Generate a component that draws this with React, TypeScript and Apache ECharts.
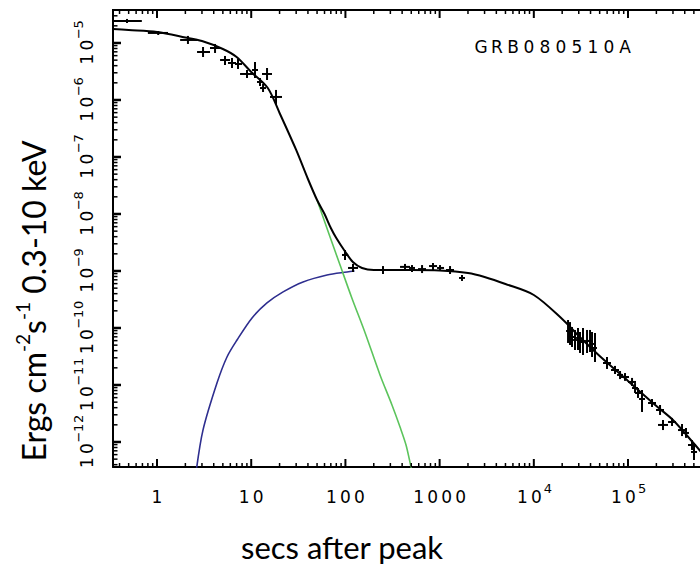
import React, { useEffect, useRef } from 'react';
import * as echarts from 'echarts';

// ---------- axis ranges (seconds after peak, erg cm^-2 s^-1) ----------
const xRange = [0.341, 6.1e5];
const yRange = [3.64e-13, 3.79e-5];

const xMajorTicks = [1, 10, 100, 1000, 1e4, 1e5];
const xTickLabels = ['1', '10', '100', '1000', '10^4', '10^5'];
const yMajorTicks = [1e-12, 1e-11, 1e-10, 1e-9, 1e-8, 1e-7, 1e-6, 1e-5];
const yTickLabels = ['10^−12', '10^−11', '10^−10', '10^−9', '10^−8', '10^−7', '10^−6', '10^−5'];
const minorSteps = [2, 3, 4, 5, 6, 7, 8, 9];

const titleText = 'GRB080510A';
const xTitle = 'secs after peak';

// ---------- model curves ----------
const modelTime = [0.341, 0.5, 1, 2, 3, 5, 7, 10, 15, 20, 30, 40, 50, 60, 70, 80, 100, 120, 150, 200,
  300, 500, 1000, 2000, 3000, 5000, 1e4, 2e4, 3e4, 5e4, 1e5, 2e5, 3e5, 5e5, 6.1e5];
const modelTotal = [1.76e-5, 1.69e-5, 1.56e-5, 1.25e-5, 1.08e-5, 7.85e-6, 5.68e-6, 3.1e-6, 1.62e-6, 5.92e-7,
  1.33e-7, 4.11e-8, 1.76e-8, 1.0e-8, 5.68e-9, 3.79e-9, 2.15e-9, 1.44e-9, 1.13e-9, 1.04e-9,
  1.04e-9, 1.04e-9, 1.02e-9, 9.2e-10, 7.85e-10, 5.92e-10, 3.79e-10, 1.44e-10, 7.24e-11, 3.23e-11,
  1.18e-11, 4.28e-12, 2.43e-12, 9.4e-13, 6.4e-13];

const riseTime = [2.6, 3.08, 4.33, 5.53, 7.07, 10.2, 14.7, 21.8, 35.5, 63.8, 104, 125];
const riseFlux = [3.0e-13, 1.63e-12, 1.08e-11, 3.1e-11, 6.15e-11, 1.5e-10, 2.75e-10, 4.29e-10, 6.42e-10,
  8.51e-10, 9.6e-10, 1.0e-9];

const decayTime = [50, 68.7, 87.7, 117, 162, 233, 312, 380, 440, 497, 522];
const decayFlux = [1.76e-8, 3.95e-9, 1.27e-9, 3.36e-10, 8.17e-11, 1.5e-11, 4.46e-12, 1.83e-12, 8.85e-13,
  3.64e-13, 2.6e-13];

// ---------- observed points: [t, tLow, tHigh, flux, fluxLow, fluxHigh] ----------
const earlyPoints = [
  [0.48, 0.341, 0.69, 2.43e-5, 2.24e-5, 2.64e-5],
  [1.03, 0.8, 1.31, 1.5e-5, 1.38e-5, 1.62e-5],
  [2.13, 1.76, 2.66, 1.13e-5, 9.61e-6, 1.33e-5],
  [3.08, 2.66, 3.65, 6.95e-6, 5.68e-6, 8.51e-6],
  [4.13, 3.65, 4.67, 8.17e-6, 6.68e-6, 9.61e-6],
  [5.27, 4.67, 5.96, 5.03e-6, 4.11e-6, 5.92e-6],
  [6.25, 5.67, 6.9, 4.46e-6, 3.64e-6, 5.46e-6],
  [7.24, 6.73, 7.99, 4.28e-6, 3.5e-6, 5.24e-6],
  [9.02, 7.61, 10.45, 2.86e-6, 2.43e-6, 3.36e-6],
  [10.97, 10.2, 11.81, 3.36e-6, 2.43e-6, 4.64e-6],
  [12.4, 11.52, 13.35, 2.07e-6, 1.76e-6, 2.43e-6],
  [14.72, 13.02, 16.63, 2.86e-6, 2.24e-6, 3.64e-6],
  [13.35, 12.4, 14.36, 1.62e-6, 1.38e-6, 1.91e-6],
  [18.34, 15.83, 21.23, 1.13e-6, 8.17e-7, 1.5e-6],
];
const plateauPoints = [
  [99, 92, 106.6, 1.91e-9, 1.56e-9, 2.33e-9],
  [120.4, 106.6, 136.1, 1.13e-9, 9.6e-10, 1.33e-9],
  [250.7, 221.9, 283.4, 1.04e-9, 8.85e-10, 1.22e-9],
  [429, 380, 485, 1.18e-9, 1.0e-9, 1.33e-9],
  [509, 473, 548, 1.13e-9, 9.6e-10, 1.27e-9],
  [651, 590, 717, 1.08e-9, 9.2e-10, 1.27e-9],
  [851, 772, 939, 1.22e-9, 1.04e-9, 1.38e-9],
  [1010, 939, 1114, 1.13e-9, 1.0e-9, 1.27e-9],
  [1290, 1169, 1422, 1.04e-9, 8.85e-10, 1.22e-9],
  [1729, 1607, 1860, 7.54e-10, 6.68e-10, 8.51e-10],
];
const latePoints = [
  [23080, 22000, 24200, 8.85e-11, 5.46e-11, 1.38e-10],
  [24230, 23100, 25400, 8.17e-11, 5.03e-11, 1.27e-10],
  [25440, 24200, 26700, 6.95e-11, 4.64e-11, 1.04e-10],
  [27370, 26100, 28700, 6.15e-11, 4.11e-11, 9.23e-11],
  [29460, 28100, 30900, 6.68e-11, 4.11e-11, 1.0e-10],
  [30940, 29500, 32500, 5.68e-11, 3.64e-11, 8.51e-11],
  [33290, 31700, 34900, 5.92e-11, 3.36e-11, 1.0e-10],
  [36720, 35000, 38500, 5.92e-11, 3.64e-11, 9.23e-11],
  [39510, 37700, 41400, 5.92e-11, 3.79e-11, 9.23e-11],
  [41490, 39500, 43500, 5.24e-11, 3.1e-11, 8.51e-11],
  [44630, 42500, 46800, 4.46e-11, 2.53e-11, 8.17e-11],
  [59850, 54280, 65990, 2.43e-11, 1.91e-11, 3.1e-11],
  [72780, 65990, 80270, 1.83e-11, 1.56e-11, 2.16e-11],
  [82260, 76420, 88510, 1.5e-11, 1.27e-11, 1.76e-11],
  [92940, 84290, 102500, 1.38e-11, 1.18e-11, 1.62e-11],
  [110300, 100000, 121600, 1.13e-11, 9.6e-12, 1.33e-11],
  [118700, 110300, 127700, 8.85e-12, 7.24e-12, 1.08e-11],
  [127700, 118700, 137400, 7.24e-12, 5.92e-12, 8.85e-12],
  [140800, 130900, 151600, 5.68e-12, 3.36e-12, 8.17e-12],
  [179800, 163100, 198300, 4.83e-12, 4.11e-12, 5.68e-12],
  [218700, 198300, 241100, 3.64e-12, 2.98e-12, 4.46e-12],
  [235200, 208200, 265900, 1.99e-12, 1.62e-12, 2.43e-12],
  [293200, 265900, 323300, 2.24e-12, 1.91e-12, 2.64e-12],
  [374400, 339500, 412800, 1.62e-12, 1.27e-12, 2.07e-12],
  [412800, 383700, 444200, 1.44e-12, 1.18e-12, 1.76e-12],
  [478000, 433400, 527200, 8.85e-13, 7.24e-13, 1.08e-12],
  [501900, 466400, 540300, 6.68e-13, 4.83e-13, 9.6e-13],
];

// ---------- helpers ----------
function minorValues(lo: number, hi: number) {
  const out: number[] = [];
  for (let e = Math.floor(Math.log10(lo)); e <= Math.ceil(Math.log10(hi)); e++) {
    for (const m of minorSteps) {
      const v = m * Math.pow(10, e);
      if (v > lo && v < hi) out.push(v);
    }
  }
  return out;
}
function spaced(str: string, style: string) {
  return str.split('').map((c) => `{${style}|${c}}`).join('');
}
function tickMarkup(label: string) {
  const [base, sup] = label.split('^');
  return spaced(base, 'b') + (sup ? spaced(sup, 's') : '');
}
function labelFor(ticks: number[], labels: string[]) {
  return (v: number) => {
    const e = Math.round(Math.log10(v));
    const i = ticks.findIndex((t) => Math.round(Math.log10(t)) === e);
    return i >= 0 ? tickMarkup(labels[i]) : '';
  };
}

const tickFont = 'DejaVu Sans';
const tickRich = {
  b: { fontFamily: tickFont, fontSize: 17, color: '#000', width: 14, align: 'center', lineHeight: 30 },
  s: { fontFamily: tickFont, fontSize: 13, color: '#000', width: 9, align: 'center', lineHeight: 16, verticalAlign: 'top' },
};

export default function App() {
  const ref = useRef<HTMLDivElement>(null);
  useEffect(() => {
    const chart = echarts.init(ref.current!, null, { renderer: 'svg' });
    const black = '#000';

    // one custom series: kind 0 = data point with error bars, 1/2 = x tick major/minor,
    // 3/4 = y tick major/minor, 5 = top frame line
    const rows: number[][] = [];
    [...earlyPoints, ...plateauPoints, ...latePoints].forEach((p) => rows.push([...p, 0]));
    const [x0, x1] = xRange;
    const [y0, y1] = yRange;
    xMajorTicks.forEach((v) => rows.push([v, v, v, y0, y0, y0, 1]));
    minorValues(x0, x1).forEach((v) => rows.push([v, v, v, y0, y0, y0, 2]));
    yMajorTicks.forEach((v) => rows.push([x0, x0, x0, v, v, v, 3]));
    minorValues(y0, y1).forEach((v) => rows.push([x0, x0, x0, v, v, v, 4]));
    rows.push([x0, x0, x1, y1, y1, y1, 5]);

    const line = (a: number[], b: number[], w: number) => ({
      type: 'line', shape: { x1: a[0], y1: a[1], x2: b[0], y2: b[1] }, style: { stroke: black, lineWidth: w },
    });

    const option: any = {
      animation: false,
      backgroundColor: '#fff',
      grid: { left: 113, right: -2, top: 10, bottom: 98, containLabel: false, outerBoundsMode: 'none' },
      xAxis: {
        type: 'log', logBase: 10, min: x0, max: x1, position: 'bottom',
        splitLine: { show: false },
        axisLine: { show: true, onZero: false, lineStyle: { color: black, width: 2 } },
        axisTick: { show: false },
        axisLabel: { show: true, customValues: xMajorTicks, margin: 15, formatter: labelFor(xMajorTicks, xTickLabels), rich: tickRich },
      },
      yAxis: {
        type: 'log', logBase: 10, min: y0, max: y1, position: 'left',
        splitLine: { show: false },
        axisLine: { show: true, onZero: false, lineStyle: { color: black, width: 2 } },
        axisTick: { show: false },
        axisLabel: { show: true, customValues: yMajorTicks, rotate: 90, margin: 11, formatter: labelFor(yMajorTicks, yTickLabels), rich: tickRich },
      },
      series: [
        {
          type: 'line', z: 2, symbol: 'none', smooth: 0.3,
          data: riseTime.map((t, i) => [t, riseFlux[i]]),
          lineStyle: { color: '#2e2e8f', width: 1.6 },
        },
        {
          type: 'line', z: 2, symbol: 'none', smooth: 0.3,
          data: decayTime.map((t, i) => [t, decayFlux[i]]),
          lineStyle: { color: '#5cc45c', width: 1.6 },
        },
        {
          type: 'line', z: 3, symbol: 'none', smooth: 0.3,
          data: modelTime.map((t, i) => [t, modelTotal[i]]),
          lineStyle: { color: black, width: 2 },
        },
        {
          type: 'custom',
          clip: false,
          z: 5,
          encode: { x: 0, y: 3 },
          dimensions: ['t', 'tLo', 'tHi', 'f', 'fLo', 'fHi', 'kind'],
          data: rows,
          renderItem: (params: any, api: any) => {
            const kind = api.value(6);
            const t = api.value(0), tLo = api.value(1), tHi = api.value(2);
            const f = api.value(3), fLo = api.value(4), fHi = api.value(5);
            if (kind === 0) {
              return {
                type: 'group',
                children: [
                  line(api.coord([tLo, f]), api.coord([tHi, f]), 2),
                  line(api.coord([t, fLo]), api.coord([t, fHi]), 2),
                ],
              };
            }
            if (kind === 1 || kind === 2) {
              const len = kind === 1 ? 8 : 4;
              const w = kind === 1 ? 2 : 1.5;
              const b = api.coord([t, y0]);
              const tp = api.coord([t, y1]);
              return {
                type: 'group',
                children: [
                  line(b, [b[0], b[1] - len], w),
                  line(tp, [tp[0], tp[1] + len], w),
                ],
              };
            }
            if (kind === 3 || kind === 4) {
              const len = kind === 3 ? 8 : 4.5;
              const w = kind === 3 ? 2.5 : 1.5;
              const l = api.coord([x0, f]);
              return line(l, [l[0] + len, l[1]], w);
            }
            const a = api.coord([tLo, f]);
            const b = api.coord([tHi, f]);
            return line([a[0] - 1, a[1]], b, 2);
          },
        },
      ],
      graphic: [
        {
          type: 'text', left: 473, top: 38,
          style: {
            text: spaced(titleText, 'c'),
            rich: { c: { fontFamily: tickFont, fontSize: 17, fill: black, width: 16, align: 'center', lineHeight: 20 } },
          },
        },
        {
          type: 'text', x: 342, y: 547,
          style: { text: xTitle, fontFamily: 'Lato', fontSize: 31, fill: black, align: 'center', verticalAlign: 'middle' },
        },
        {
          type: 'text', x: 33, y: 301, rotation: Math.PI / 2,
          style: {
            text: '{n|Ergs cm}{s|-2}{n|s}{s|-1}{n| 0.3-10 keV}',
            align: 'center', verticalAlign: 'middle',
            rich: {
              n: { fontFamily: 'Lato', fontSize: 32, fill: black, lineHeight: 40 },
              s: { fontFamily: 'Lato', fontSize: 19, fill: black, lineHeight: 22, verticalAlign: 'top' },
            },
          },
        },
      ],
    };
    chart.setOption(option);
    return () => chart.dispose();
  }, []);
  return <div ref={ref} style={{ position: 'fixed', left: 0, top: 0, width: 700, height: 565, background: '#fff' }} />;
}
